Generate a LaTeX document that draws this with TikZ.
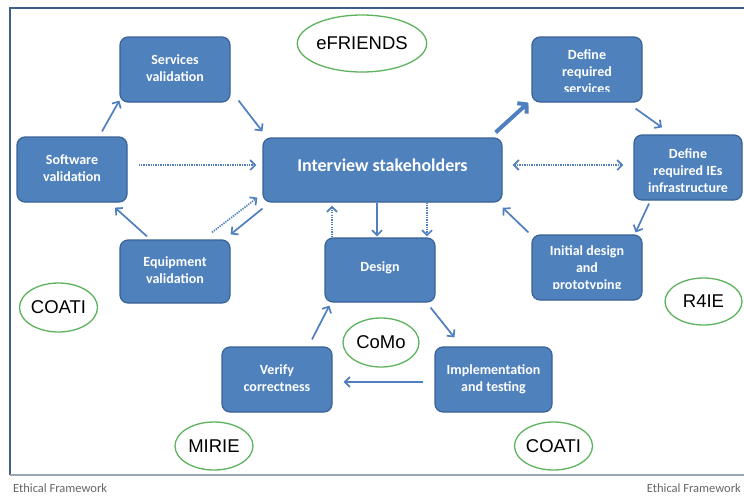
\documentclass[tikz,border=0pt]{standalone}
\usepackage{fontspec}
\setmainfont{Carlito}
\newfontfamily\arialf{Liberation Sans}
\usetikzlibrary{arrows.meta,shapes.geometric}
\definecolor{boxfill}{HTML}{4F81BD}
\definecolor{boxline}{HTML}{3A6296}
\definecolor{arrc}{HTML}{4F7FBF}
\definecolor{ellline}{HTML}{5DB35D}
\definecolor{framec}{HTML}{3E5F8C}
\definecolor{footline}{HTML}{9AA6B8}
\definecolor{footc}{HTML}{666666}
\newcommand\bt[2]{\raisebox{#1}{\begin{tabular}{@{}c@{}}#2\end{tabular}}}
\begin{document}
\begin{tikzpicture}[x=1pt,y=-1pt,
  box/.style={draw=boxline, line width=1.2pt, fill=boxfill, rounded corners=8pt,
    inner sep=0pt, text=white, font=\fontsize{14}{17}\selectfont\bfseries},
  btxt/.style={inner sep=0pt, text=white, font=\fontsize{14}{17}\selectfont\bfseries},
  ell/.style={ellipse, draw=ellline, line width=1.3pt, fill=white, inner sep=0pt,
    font=\arialf\fontsize{18.5}{20}\selectfont},
  conn/.style={draw=arrc, line width=1.7pt, -{Straight Barb[length=5pt,width=10pt]}},
  dconn/.style={conn, dash pattern=on 1.3pt off 1.1pt},
  thick conn/.style={draw=arrc, line width=4pt, -{Straight Barb[length=6pt,width=14pt]}},
  foot/.style={inner sep=0pt, text=footc, font=\fontsize{12.5}{14}\selectfont}
]
\useasboundingbox (0,0) rectangle (744,501);
\fill[white] (0,0) rectangle (744,501);
% frame
\draw[framec, line width=1.5pt] (10,475) -- (10,8) -- (744,8);
\draw[footline, line width=1.2pt] (10,475) -- (744,475);
\node[foot, anchor=west] (fl) at (13,488) {Ethical Framework};
\node[foot, anchor=east] (fr) at (741,488) {Ethical Framework};

% boxes
\node[box, minimum width=110pt, minimum height=65pt] (sv) at (175,69.5) {\bt{4.5pt}{Services\\validation}};
\node[box, minimum width=110pt, minimum height=65pt] (sw) at (72,169.5) {\bt{6pt}{Software\\validation}};
\node[box, minimum width=239pt, minimum height=64pt, font=\fontsize{18}{20}\selectfont\bfseries] (iv) at (382.5,170) {\raisebox{10pt}{Interview stakeholders}};
\node[box, minimum width=110pt, minimum height=63pt] (eq) at (175,271.5) {\bt{2.5pt}{Equipment\\validation}};
\node[box, minimum width=110pt, minimum height=64pt] (ds) at (380,270) {\raisebox{7pt}{Design}};
\node[box, minimum width=110pt, minimum height=65pt] (vc) at (277,379.5) {\bt{3.5pt}{Verify\\correctness}};
\node[box, minimum width=117pt, minimum height=65pt] (it) at (493.5,379.5) {\bt{5.5pt}{Implementation\\and testing}};
\node[box, minimum width=110pt, minimum height=65pt,
  path picture={\clip (path picture bounding box.north west) rectangle ([yshift=11pt]path picture bounding box.south east);
    \node[btxt] (drst) at ([yshift=-4pt]path picture bounding box.center) {\begin{tabular}{@{}c@{}}Define\\required\\services\end{tabular}};}] (drs) at (587,69.5) {};
\node[box, minimum width=108pt, minimum height=65pt,
  path picture={\clip (path picture bounding box.north west) rectangle ([yshift=9pt]path picture bounding box.south east);
    \node[btxt] (driet) at ([yshift=-4.5pt]path picture bounding box.center) {\begin{tabular}{@{}c@{}}Define\\required IEs\\infrastructure\end{tabular}};}] (drie) at (688,167.5) {};
\node[box, minimum width=110pt, minimum height=65pt,
  path picture={\clip (path picture bounding box.north west) rectangle ([yshift=12pt]path picture bounding box.south east);
    \node[btxt] (idpt) at ([yshift=-2pt]path picture bounding box.center) {\begin{tabular}{@{}c@{}}Initial design\\and\\prototyping\end{tabular}};}] (idp) at (587,267.5) {};

% ellipses
\node[ell, minimum width=110pt, minimum height=57pt] (efr) at (362,43.5) {eFRIENDS};
\node[ell, minimum width=77pt, minimum height=49pt] (coa1) at (58.5,307.5) {COATI};
\node[ell, minimum width=76pt, minimum height=49pt] (como) at (381,342.5) {CoMo};
\node[ell, minimum width=78pt, minimum height=48pt] (mir) at (214,446) {MIRIE};
\node[ell, minimum width=77pt, minimum height=48pt] (coa2) at (553.5,446) {COATI};
\node[ell, minimum width=77pt, minimum height=47pt] (r4) at (703.5,301.5) {R4IE};

% connectors
\draw[conn] ([shift={(30,-5)}]sw.north) -- ([shift={(0,-2)}]sv.south west);
\draw[conn] ([shift={(8,-2)}]sv.south east) -- ([shift={(0,-6)}]iv.north west);
\draw[dconn] ([shift={(11,-4.5)}]sw.east) -- ([shift={(-6,-5)}]iv.west);
\draw[conn] ([shift={(-28,-3)}]eq.north) -- ([shift={(43,5)}]sw.south);
\draw[conn] ([shift={(0,6)}]iv.south west) -- ([shift={(0,-5)}]eq.north east);
\draw[dconn] ([shift={(37,-7)}]eq.north) -- ([shift={(-5,-5)}]iv.south west);
\draw[dconn] ([shift={(-48,0)}]ds.north) -- ([shift={(-50.5,3)}]iv.south);
\draw[conn] ([shift={(-5.5,0)}]iv.south) -- ([shift={(-3,-1)}]ds.north);
\draw[dconn] ([shift={(44.5,0)}]iv.south) -- ([shift={(47,-1)}]ds.north);
\draw[thick conn] ([shift={(-7,-5)}]iv.north east) -- ([shift={(-3,0)}]drs.south west);
\draw[conn] ([shift={(-7,6)}]drs.south east) -- ([shift={(-26,-7)}]drie.north);
\draw[dconn, {Straight Barb[length=5pt,width=10pt]}-{Straight Barb[length=5pt,width=10pt]}] ([shift={(10,-5)}]iv.east) -- ([shift={(-10,-2.5)}]drie.west);
\draw[conn] ([shift={(-39,3)}]drie.south) -- ([shift={(-7,-2)}]idp.north east);
\draw[conn] ([shift={(-3,-2)}]idp.north west) -- ([shift={(0,5)}]iv.south east);
\draw[conn] ([shift={(35,-7)}]vc.north) -- ([shift={(5,3)}]ds.south west);
\draw[conn] ([shift={(-5,5)}]ds.south east) -- ([shift={(20,-9)}]it.north west);
\draw[conn] ([shift={(-11,2.5)}]it.west) -- ([shift={(11,2.5)}]vc.east);
\end{tikzpicture}
\end{document}
